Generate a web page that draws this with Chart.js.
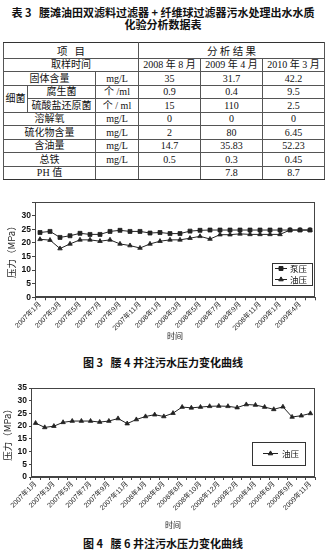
<!DOCTYPE html>
<html>
<head>
<meta charset="utf-8">
<script src="https://cdn.jsdelivr.net/npm/chart.js@4.4.0/dist/chart.umd.min.js"></script>
<style>
html, body { margin: 0; padding: 0; background: #fff; }
body { width: 326px; height: 551px; position: relative; overflow: hidden; color: #111;
  font-family: "Noto Sans CJK SC", sans-serif; }
.title { position: absolute; left: 0; top: 7px; width: 326px; text-align: center;
  font-size: 11px; line-height: 11.5px; font-weight: bold; }
table { position: absolute; left: 3px; top: 42px; border-collapse: collapse; table-layout: fixed;
  font-family: "Liberation Serif", "Noto Sans CJK SC", serif; font-size: 10px; }
td { border: 1px solid #555; padding: 0; text-align: center; line-height: 11px; height: 12.5px;
  white-space: nowrap; overflow: hidden; }
tr.head td { height: 14.5px; font-family: "Noto Sans CJK SC", sans-serif; font-size: 10.5px; border-top: 1.5px solid #333; }
tr.last td { border-bottom: 1.5px solid #333; }
.cap { position: absolute; left: 0; width: 326px; text-align: center; font-size: 11px; font-weight: bold; line-height: 12px; }
canvas { position: absolute; left: 0; }
</style>
</head>
<body>
<div class="title">表 3&nbsp;&nbsp;&nbsp;腰滩油田双滤料过滤器 + 纤维球过滤器污水处理出水水质<br>化验分析数据表</div>

<table>
  <colgroup>
    <col style="width:24px"><col style="width:68px"><col style="width:43px">
    <col style="width:62px"><col style="width:62px"><col style="width:62px">
  </colgroup>
  <tr class="head"><td colspan="3">项&nbsp;&nbsp;&nbsp;目</td><td colspan="3">分&nbsp;析&nbsp;结&nbsp;果</td></tr>
  <tr><td colspan="3">取样时间</td><td>2008 年 8 月</td><td>2009 年 4 月</td><td>2010 年 3 月</td></tr>
  <tr><td colspan="2">固体含量</td><td>mg/L</td><td>35</td><td>31.7</td><td>42.2</td></tr>
  <tr><td rowspan="2">细菌</td><td>腐生菌</td><td>个 /ml</td><td>0.9</td><td>0.4</td><td>9.5</td></tr>
  <tr><td>硫酸盐还原菌</td><td>个 / ml</td><td>15</td><td>110</td><td>2.5</td></tr>
  <tr><td colspan="2">溶解氧</td><td>mg/L</td><td>0</td><td>0</td><td>0</td></tr>
  <tr><td colspan="2">硫化物含量</td><td>mg/L</td><td>2</td><td>80</td><td>6.45</td></tr>
  <tr><td colspan="2">含油量</td><td>mg/L</td><td>14.7</td><td>35.83</td><td>52.23</td></tr>
  <tr><td colspan="2">总铁</td><td>mg/L</td><td>0.5</td><td>0.3</td><td>0.45</td></tr>
  <tr class="last"><td colspan="2">PH 值</td><td></td><td></td><td>7.8</td><td>8.7</td></tr>
</table>

<canvas id="well4" width="326" height="152" style="top:190px"></canvas>
<div class="cap" style="top:356px">图 3&nbsp;&nbsp;&nbsp;腰 4 井注污水压力变化曲线</div>

<canvas id="well6" width="326" height="155" style="top:378px"></canvas>
<div class="cap" style="top:537px">图 4&nbsp;&nbsp;&nbsp;腰 6 井注污水压力变化曲线</div>

<script>
// 腰4井: monthly samples, every other month labelled on the axis
const months4 = [
  '2007年1月', '2007年2月', '2007年3月', '2007年4月', '2007年5月', '2007年6月', '2007年7月',
  '2007年8月', '2007年9月', '2007年10月', '2007年11月', '2007年12月', '2008年1月', '2008年2月',
  '2008年3月', '2008年4月', '2008年5月', '2008年6月', '2008年7月', '2008年8月', '2008年9月',
  '2008年10月', '2008年11月', '2008年12月', '2009年1月', '2009年3月', '2009年4月', '2009年5月'
];
const pump4 = [23.8, 24.2, 22.0, 22.6, 23.5, 23.1, 23.1, 24.2, 24.6, 24.2, 24.2, 23.6, 23.8, 23.4,
  23.4, 24.3, 24.6, 24.7, 24.7, 24.7, 24.7, 24.7, 24.7, 24.7, 24.7, 24.7, 24.7, 24.7];
const oil4 = [21.3, 21.0, 17.9, 19.6, 21.1, 21.1, 20.6, 21.1, 19.6, 19.0, 18.1, 19.6, 20.6, 21.1,
  21.1, 21.7, 22.4, 21.4, 23.0, 23.0, 23.3, 23.1, 23.1, 23.1, 23.1, 24.7, 24.7, 24.7];

// 腰6井
const months6 = [
  '2007年1月', '2007年2月', '2007年3月', '2007年4月', '2007年5月', '2007年6月', '2007年7月',
  '2007年8月', '2007年9月', '2007年10月', '2007年11月', '2008年3月', '2008年4月', '2008年5月',
  '2008年6月', '2008年7月', '2008年8月', '2008年9月', '2008年10月', '2008年11月', '2008年12月',
  '2009年1月', '2009年2月', '2009年3月', '2009年4月', '2009年5月', '2009年6月', '2009年8月',
  '2009年9月', '2009年10月', '2009年11月'
];
const oil6 = [21.2, 19.5, 20.0, 21.5, 22.0, 22.0, 22.0, 21.6, 22.0, 23.0, 21.0, 22.6, 23.8, 24.5,
  23.8, 25.1, 27.5, 27.2, 27.5, 27.8, 27.9, 27.8, 27.3, 28.5, 28.3, 27.5, 26.6, 27.6, 23.6, 24.1, 25.0];

const yMax = 35;
const yStep = 5;
const yLabelMax4 = 30;   // top tick of 腰4 chart is left unlabelled

const INK = '#222';
const LATIN = '"Liberation Sans", "Noto Sans CJK SC", sans-serif';
const CJK = '"Noto Sans CJK SC", sans-serif';

// box round the plot area
const frameBox = {
  id: 'frameBox',
  beforeDatasetsDraw(chart) {
    const { ctx, chartArea: a } = chart;
    ctx.save();
    ctx.strokeStyle = '#444';
    ctx.lineWidth = 1;
    ctx.strokeRect(Math.round(a.left) + 0.5, Math.round(a.top) + 0.5,
      Math.round(a.width) - 1, Math.round(a.height) - 1);
    ctx.restore();
  }
};

// legend drawn inside the plot, bottom-right corner
function insetLegend(box) {
  return {
    id: 'insetLegend',
    afterDraw(chart) {
      const { ctx, chartArea: a } = chart;
      const x = Math.round(a.right - box.right - box.width);
      const y = Math.round(a.bottom - box.bottom - box.height);
      ctx.save();
      ctx.fillStyle = '#fff';
      ctx.fillRect(x, y, box.width, box.height);
      ctx.strokeStyle = '#333';
      ctx.lineWidth = 1;
      ctx.strokeRect(x + 0.5, y + 0.5, box.width, box.height);
      const sets = chart.data.datasets;
      sets.forEach((ds, i) => {
        const cy = y + box.height * (i + 0.5) / sets.length;
        ctx.strokeStyle = ds.borderColor;
        ctx.lineWidth = ds.borderWidth;
        ctx.beginPath();
        ctx.moveTo(x + box.lineFrom, cy);
        ctx.lineTo(x + box.lineTo, cy);
        ctx.stroke();
        ctx.fillStyle = ds.backgroundColor;
        Chart.helpers.drawPoint(ctx, {
          pointStyle: ds.pointStyle, radius: ds.pointRadius, rotation: 0, borderWidth: 1
        }, x + (box.lineFrom + box.lineTo) / 2, cy);
        ctx.fillStyle = '#111';
        ctx.font = '8.5px ' + CJK;
        ctx.textBaseline = 'middle';
        ctx.fillText(ds.label, x + box.textX, cy);
      });
      ctx.restore();
    }
  };
}

function series(label, data, style, radius) {
  return {
    label, data,
    borderColor: INK, backgroundColor: INK, borderWidth: 1,
    pointStyle: style, pointRadius: radius, pointBorderWidth: 0.8,
    tension: 0
  };
}

function pressureOptions(o) {
  return {
    responsive: false,
    animation: false,
    layout: { padding: { top: o.top, right: 11, left: 0, bottom: 0 } },
    plugins: { legend: { display: false }, tooltip: { enabled: false } },
    scales: {
      x: {
        type: 'category',
        offset: true,
        grid: { offset: true, drawOnChartArea: false, drawTicks: true, tickLength: 3, color: '#444' },
        border: { color: '#444' },
        ticks: {
          autoSkip: false, minRotation: 45, maxRotation: 45, padding: 0, color: '#222',
          font: { family: LATIN, size: 7 },
          callback: function (v, i) { return i % 2 === 0 ? this.getLabelForValue(v) : ''; }
        },
        title: { display: true, text: '时间', color: '#222', font: { family: CJK, size: 8 },
          padding: { top: 0, bottom: o.xTitlePad } },
        afterFit: s => { s.height = o.xHeight; }
      },
      y: {
        min: 0, max: yMax,
        grid: { drawOnChartArea: false, drawTicks: true, tickLength: o.tickLen, color: '#444' },
        border: { color: '#444' },
        ticks: {
          autoSkip: false, stepSize: yStep, padding: o.tickPad, color: '#111',
          font: { family: LATIN, size: 8.5, weight: 'bold' },
          callback: v => (v > o.labelMax ? '' : v)
        },
        title: { display: true, text: '压力（MPa）', color: '#222', font: { family: CJK, size: 9.5 },
          padding: { top: o.yTitlePad, bottom: 0 } },
        afterFit: s => { s.width = o.yWidth; }
      }
    }
  };
}

new Chart(document.getElementById('well4'), {
  type: 'line',
  data: {
    labels: months4,
    datasets: [series('泵压', pump4, 'rect', 2.8), series('油压', oil4, 'triangle', 2.6)]
  },
  options: pressureOptions({ top: 12, xHeight: 44.7, xTitlePad: 1, yWidth: 35, tickLen: 3, tickPad: 1,
    yTitlePad: 6, labelMax: yLabelMax4 }),
  plugins: [frameBox, insetLegend({ right: 3, bottom: 12, width: 40, height: 22, lineFrom: 3, lineTo: 15, textX: 18 })]
});

new Chart(document.getElementById('well6'), {
  type: 'line',
  data: {
    labels: months6,
    datasets: [series('油压', oil6, 'triangle', 2.6)]
  },
  options: pressureOptions({ top: 10, xHeight: 56, xTitlePad: 3, yWidth: 31, tickLen: 2, tickPad: 2,
    yTitlePad: 2, labelMax: yMax }),
  plugins: [frameBox, insetLegend({ right: 10, bottom: 12, width: 53, height: 23, lineFrom: 11, lineTo: 26, textX: 30 })]
});
</script>
</body>
</html>
